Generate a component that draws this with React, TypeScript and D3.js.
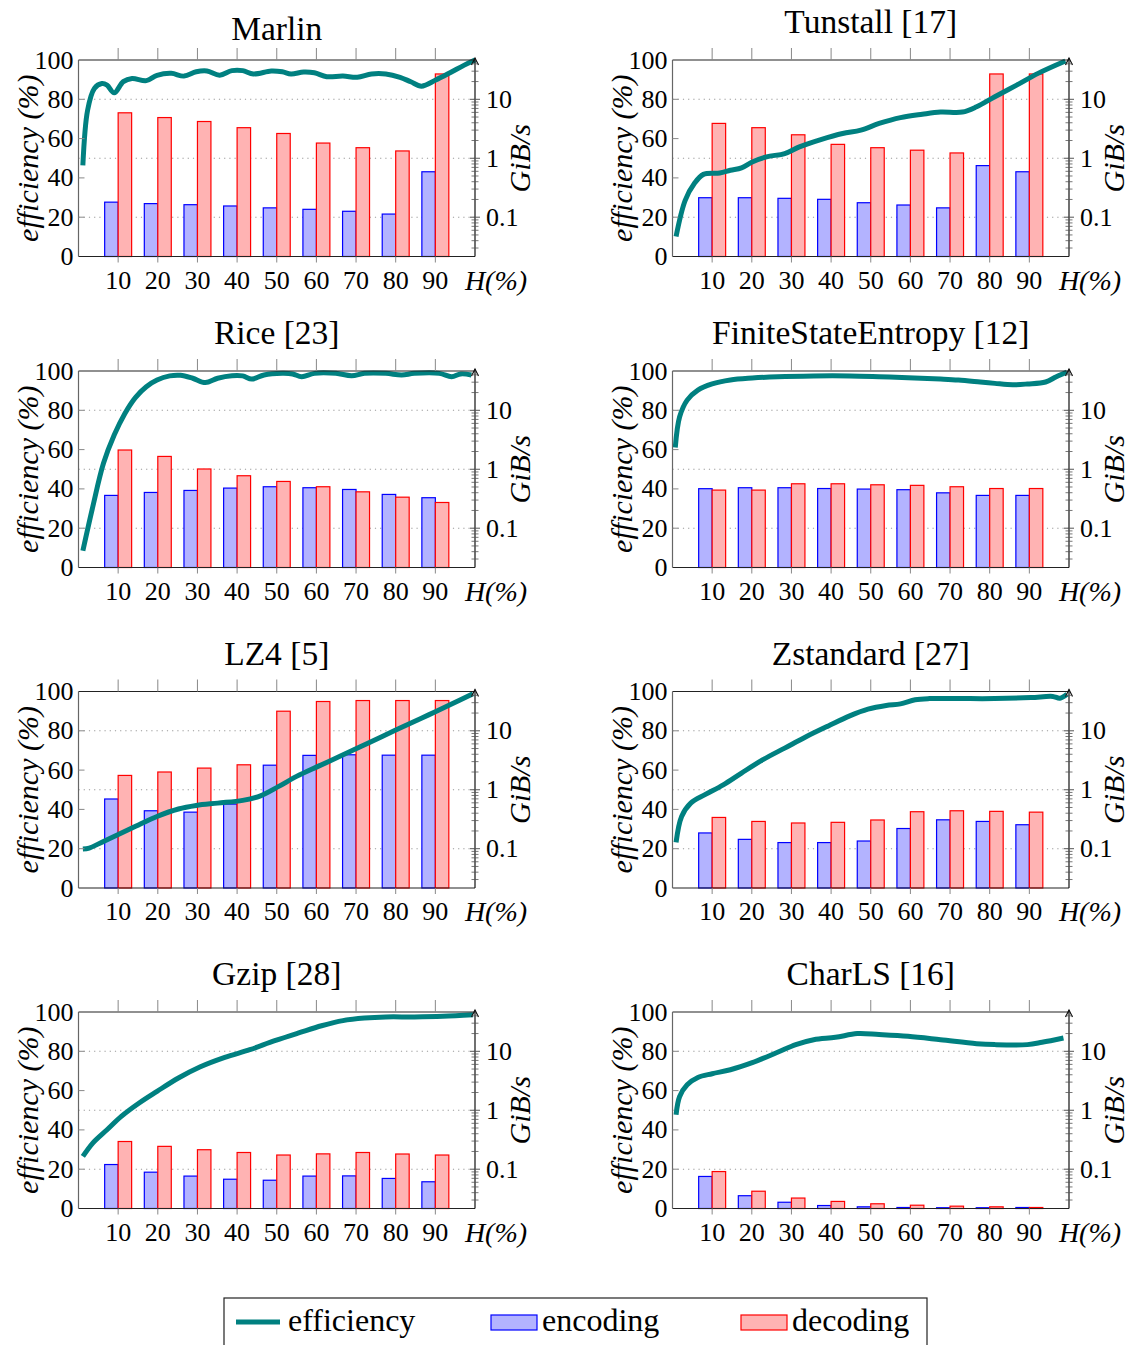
import * as d3 from 'd3'

// entropy levels H(%) on the x axis
const entropyLevels = [10, 20, 30, 40, 50, 60, 70, 80, 90]
const leftTicks = [0, 20, 40, 60, 80, 100]
const rightTicks = [0.1, 1, 10]

// throughput in GiB/s (log axis), efficiency in % over H(%)
const marlinEncoding = [0.18, 0.17, 0.163, 0.155, 0.144, 0.136, 0.126, 0.113, 0.59]
const marlinDecoding = [5.9, 4.9, 4.2, 3.3, 2.63, 1.81, 1.51, 1.33, 26.9]
const marlinEfficiency: [number, number][] = [
  [1.1, 46.4], [2.3, 74.5], [4, 85.5], [5.9, 88], [7.2, 87.2], [9, 83.3], [11.3, 89], [13.5, 90.6],
  [17.1, 89.5], [19.8, 92.2], [23.4, 93.2], [26.6, 91.8], [29.7, 94], [32.4, 94.4], [35.6, 92.3],
  [38.7, 94.6], [41.4, 94.6], [44.1, 92.9], [48.6, 94.4], [51.4, 94], [53.6, 92.9], [56.8, 93.9],
  [59.5, 93.5], [62.6, 91.5], [66.7, 91.8], [70.3, 91.2], [73.9, 92.9], [77.5, 92.9], [81.1, 91.2],
  [83.8, 88.9], [86.5, 86.7], [90.1, 89.8], [93.7, 93.5], [97.3, 97.4], [100, 100],
]

const tunstallEncoding = [0.214, 0.214, 0.209, 0.201, 0.176, 0.161, 0.144, 0.75, 0.59]
const tunstallDecoding = [3.9, 3.3, 2.5, 1.72, 1.51, 1.37, 1.23, 26.9, 26.9]
const tunstallEfficiency: [number, number][] = [
  [0.9, 10.2], [3.2, 28.6], [5.5, 37.1], [7.8, 41.8], [11.9, 42.5], [14.6, 43.9], [17.4, 45.1],
  [20.1, 48.1], [23.7, 50.7], [28.3, 52.4], [32, 55.8], [37.4, 59.5], [42.9, 62.6], [47.5, 64.3],
  [52.1, 67.7], [57.5, 70.7], [63, 72.4], [67.6, 73.5], [73.1, 73.5], [76.7, 76.2], [81.3, 81.3],
  [86.8, 87.2], [92.2, 93.2], [99.1, 99.5],
]

const riceEncoding = [0.36, 0.404, 0.437, 0.479, 0.505, 0.486, 0.454, 0.374, 0.329]
const riceDecoding = [2.12, 1.65, 1.01, 0.776, 0.621, 0.505, 0.414, 0.336, 0.273]
const riceEfficiency: [number, number][] = [
  [1.1, 8.5], [3.6, 30.9], [6.3, 53], [9, 67.4], [11.7, 78.4], [14.4, 86.6], [17.1, 92], [19.8, 95.4],
  [23, 97.5], [25.7, 97.8], [28.8, 96.3], [32, 94.1], [35.1, 96.3], [38.7, 97.6], [41.4, 97.5],
  [43.7, 95.9], [46.8, 98], [51.4, 98.8], [54, 98.5], [56.3, 97.1], [59.5, 98.8], [64.9, 98.8],
  [68.9, 97.6], [72.1, 98.8], [77.5, 98.8], [81.5, 98], [84.7, 98.8], [91, 98.8], [94.1, 97.1],
  [96.4, 98.5], [99.1, 98],
]

const fseEncoding = [0.468, 0.486, 0.486, 0.471, 0.461, 0.45, 0.398, 0.36, 0.36]
const fseDecoding = [0.443, 0.443, 0.567, 0.567, 0.545, 0.533, 0.505, 0.471, 0.471]
const fseEfficiency: [number, number][] = [
  [0.7, 61.1], [1.8, 76.7], [3.7, 85.2], [6.4, 90.3], [10, 93.4], [14.6, 95.4], [20.1, 96.4],
  [26.5, 97.1], [35.6, 97.5], [44.7, 97.5], [52.1, 97.1], [59.4, 96.6], [67.6, 95.9], [72.1, 95.4],
  [77.6, 94.4], [81.3, 93.7], [85.8, 93], [89.5, 93.4], [94.1, 94.4], [96.8, 97.1], [99.5, 99.5],
]

const lz4Encoding = [0.697, 0.44, 0.417, 0.571, 2.61, 3.83, 3.92, 3.86, 3.86]
const lz4Decoding = [1.75, 2.0, 2.33, 2.65, 21.5, 31.4, 32.6, 32.6, 32.6]
const lz4Efficiency: [number, number][] = [
  [1.1, 19.8], [2.7, 20.3], [6.3, 23.7], [9.9, 27.1], [14.4, 31.4], [19.8, 36.4], [25.2, 40.2],
  [29.7, 42], [35.1, 43.2], [41.4, 44.6], [45.9, 46.9], [50.5, 51.7], [55, 56.8], [60.4, 61.9],
  [65.8, 66.9], [71.2, 72], [76.6, 77.1], [82.9, 83.1], [88.3, 88.1], [93.7, 93.2], [99.5, 98.8],
]

const zstdEncoding = [0.185, 0.144, 0.127, 0.127, 0.135, 0.22, 0.309, 0.29, 0.255]
const zstdDecoding = [0.339, 0.29, 0.273, 0.28, 0.307, 0.424, 0.44, 0.43, 0.417]
const zstdEfficiency: [number, number][] = [
  [0.9, 23.2], [2.3, 36.4], [4.6, 43.2], [8.2, 47.5], [12.8, 52.5], [17.4, 58.5], [22.8, 65.3],
  [28.3, 71.2], [33.8, 77.1], [39.3, 82.5], [44.7, 87.6], [49.3, 91], [53.9, 92.9], [57.5, 93.7],
  [61.2, 95.8], [64.8, 96.4], [72.1, 96.4], [81.3, 96.4], [90.4, 96.9], [95.9, 97.5], [97.7, 96.6],
  [99.5, 98.6],
]

const gzipEncoding = [0.12, 0.089, 0.0764, 0.0676, 0.065, 0.0764, 0.077, 0.0697, 0.0612]
const gzipDecoding = [0.295, 0.244, 0.214, 0.192, 0.174, 0.182, 0.192, 0.181, 0.174]
const gzipEfficiency: [number, number][] = [
  [1.1, 26.5], [3.6, 33.3], [7.2, 40.1], [10.8, 46.9], [15.3, 53.7], [19.8, 59.6], [25.2, 66.4],
  [30.6, 72], [36.9, 76.9], [43.2, 80.8], [49.5, 85.4], [55.9, 89.6], [61.3, 93], [66.7, 95.6],
  [72.1, 96.9], [77.5, 97.5], [84.7, 97.5], [91.9, 97.8], [99.5, 98.6],
]

const charlsEncoding = [0.0753, 0.0355, 0.0275, 0.0242, 0.023, 0.0224, 0.0222, 0.0222, 0.0224]
const charlsDecoding = [0.0912, 0.0423, 0.0324, 0.0284, 0.0259, 0.0245, 0.0236, 0.023, 0.0224]
const charlsEfficiency: [number, number][] = [
  [0.9, 47.7], [1.8, 57], [3.7, 63], [6.4, 66.7], [10, 68.6], [14.6, 70.6], [20.1, 74.2],
  [26.5, 79.5], [31.1, 83.4], [35.6, 85.9], [41.1, 87.1], [46.6, 89], [52.1, 88.5], [59.4, 87.6],
  [67.6, 85.9], [76.7, 83.9], [81.3, 83.4], [89.5, 83.4], [93.2, 84.6], [98.6, 86.8],
]

const titles = [
  'Marlin', 'Tunstall [17]', 'Rice [23]', 'FiniteStateEntropy [12]',
  'LZ4 [5]', 'Zstandard [27]', 'Gzip [28]', 'CharLS [16]',
]

const panels = [
  { enc: marlinEncoding, dec: marlinDecoding, eff: marlinEfficiency },
  { enc: tunstallEncoding, dec: tunstallDecoding, eff: tunstallEfficiency },
  { enc: riceEncoding, dec: riceDecoding, eff: riceEfficiency },
  { enc: fseEncoding, dec: fseDecoding, eff: fseEfficiency },
  { enc: lz4Encoding, dec: lz4Decoding, eff: lz4Efficiency },
  { enc: zstdEncoding, dec: zstdDecoding, eff: zstdEfficiency },
  { enc: gzipEncoding, dec: gzipDecoding, eff: gzipEfficiency },
  { enc: charlsEncoding, dec: charlsDecoding, eff: charlsEfficiency },
]

const FONT = "'Liberation Serif', 'DejaVu Serif', serif"
const TEAL = '#008080'
const colLeft = [78.5, 672.5]
const rowTop = [60, 371, 691.5, 1012]
const plotW = 396.5
const plotH = 196.5

function Panel({ idx }: { idx: number }) {
  const { enc, dec, eff } = panels[idx]
  const title = titles[idx]
  const x0 = colLeft[idx % 2]
  const top = rowTop[Math.floor(idx / 2)]
  const x1 = x0 + plotW
  const bottom = top + plotH

  const x = d3.scaleLinear().domain([0, 100]).range([x0, x1])
  const yL = d3.scaleLinear().domain([0, 100]).range([bottom, top])
  const yR = d3.scaleLog().domain([10 ** (-5 / 3), 10 ** (5 / 3)]).range([bottom, top])
  const bw = x(3.4) - x(0)

  const line = d3.line<[number, number]>()
    .x(d => x(d[0]))
    .y(d => yL(d[1]))
    .curve(d3.curveCatmullRom.alpha(0.5))

  // minor ticks of the log axis
  const minor: number[] = []
  for (let e = -2; e <= 1; e++) {
    for (let k = 2; k <= 9; k++) {
      const v = k * 10 ** e
      if (v >= yR.domain()[0] && v <= yR.domain()[1]) minor.push(v)
    }
  }

  const titleOffset = /[\[\]gjpqy]/.test(title) ? 27 : 20

  return (
    <g fontFamily={FONT}>
      <text x={(x0 + x1) / 2} y={top - titleOffset} textAnchor="middle" fontSize={33.5}>{title}</text>

      {/* grid from the right log axis */}
      {rightTicks.map(t => (
        <line key={'g' + t} x1={x0} x2={x1} y1={yR(t)} y2={yR(t)} stroke="#999" strokeWidth={1.1} strokeDasharray="1.2,4" />
      ))}

      {/* bars */}
      {entropyLevels.map((h, i) => (
        <g key={'b' + h}>
          <rect x={x(h) - bw} y={yR(enc[i])} width={bw} height={bottom - yR(enc[i])}
            fill="#b3b3ff" stroke="#0000ff" strokeWidth={1.2} />
          <rect x={x(h)} y={yR(dec[i])} width={bw} height={bottom - yR(dec[i])}
            fill="#ffb3b3" stroke="#ff0000" strokeWidth={1.2} />
        </g>
      ))}

      {/* efficiency */}
      <path d={line(eff) ?? ''} fill="none" stroke={TEAL} strokeWidth={5} strokeLinejoin="round" />

      {/* frame */}
      <line x1={x0} x2={x1} y1={top} y2={top} stroke="#222" strokeWidth={1.2} />
      <line x1={x0} x2={x1} y1={bottom} y2={bottom} stroke="#222" strokeWidth={1.2} />
      <line x1={x0} x2={x0} y1={top} y2={bottom} stroke="#666" strokeWidth={1.2} />
      <line x1={x1} x2={x1} y1={top - 2} y2={bottom} stroke="#111" strokeWidth={1.2} />
      <path d={`M${x1 - 3.5},${top + 5} L${x1},${top - 2} L${x1 + 3.5},${top + 5}`} fill="none" stroke="#111" strokeWidth={1.2} />

      {/* x ticks */}
      {entropyLevels.map(h => (
        <g key={'x' + h}>
          <line x1={x(h)} x2={x(h)} y1={top - 12} y2={top} stroke="#888" strokeWidth={1} />
          <line x1={x(h)} x2={x(h)} y1={bottom} y2={bottom + 6} stroke="#888" strokeWidth={1} />
          <text x={x(h)} y={bottom + 32} textAnchor="middle" fontSize={26}>{h}</text>
        </g>
      ))}
      <text x={x1 + 21} y={bottom + 33} textAnchor="middle" fontSize={28} fontStyle="italic">H(%)</text>

      {/* left axis */}
      {leftTicks.map(t => (
        <g key={'l' + t}>
          {t > 0 && t < 100 && <line x1={x0} x2={x0 + 6} y1={yL(t)} y2={yL(t)} stroke="#888" strokeWidth={1} />}
          <text x={x0 - 5} y={yL(t)} textAnchor="end" dominantBaseline="central" fontSize={26}>{t}</text>
        </g>
      ))}
      <text transform={`translate(${x0 - 51},${(top + bottom) / 2}) rotate(-90)`} textAnchor="middle"
        dominantBaseline="central" fontSize={30} fontStyle="italic">efficiency (%)</text>

      {/* right log axis */}
      {minor.map(v => (
        <line key={'m' + v} x1={x1 - 3.5} x2={x1 + 3.5} y1={yR(v)} y2={yR(v)} stroke="#555" strokeWidth={0.8} />
      ))}
      {rightTicks.map(t => (
        <g key={'r' + t}>
          <line x1={x1 - 5} x2={x1 + 5} y1={yR(t)} y2={yR(t)} stroke="#555" strokeWidth={1} />
          <text x={x1 + 11} y={yR(t)} dominantBaseline="central" fontSize={26}>{t}</text>
        </g>
      ))}
      <text transform={`translate(${x1 + 44},${(top + bottom) / 2}) rotate(-90)`} textAnchor="middle"
        dominantBaseline="central" fontSize={30} fontStyle="italic">GiB/s</text>
    </g>
  )
}

export default function App() {
  return (
    <div>
      <style>{'body{margin:0}'}</style>
      <svg width={1128} height={1345} style={{ display: 'block', background: '#fff' }}>
        {panels.map((_, i) => <Panel key={i} idx={i} />)}

        {/* legend */}
        <g fontFamily={FONT} fontSize={32}>
          <rect x={224} y={1298} width={703} height={60} fill="#fff" stroke="#222" strokeWidth={1.2} />
          <line x1={236} x2={280} y1={1322} y2={1322} stroke={TEAL} strokeWidth={5} />
          <text x={288} y={1331}>efficiency</text>
          <rect x={491} y={1315} width={46} height={15} fill="#b3b3ff" stroke="#0000ff" strokeWidth={1.2} />
          <text x={542} y={1331}>encoding</text>
          <rect x={741} y={1315} width={46} height={15} fill="#ffb3b3" stroke="#ff0000" strokeWidth={1.2} />
          <text x={792} y={1331}>decoding</text>
        </g>
      </svg>
    </div>
  )
}
